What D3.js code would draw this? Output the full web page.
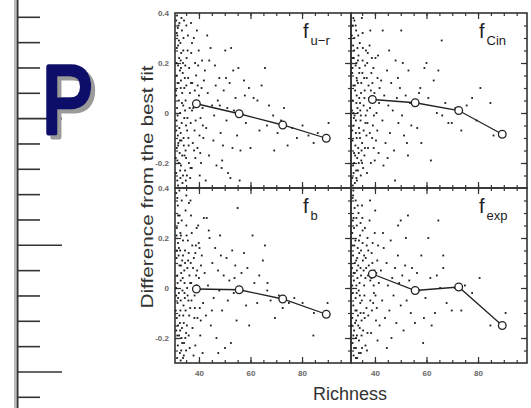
<!DOCTYPE html>
<html lang="en">
<head>
  <meta charset="utf-8">
  <title>Difference from the best fit vs richness</title>
  <script src="https://d3js.org/d3.v7.min.js"></script>
  <style>
    html, body { margin: 0; padding: 0; background: #fff; }
    svg { display: block; font-family: "Liberation Sans", Arial, sans-serif; }
    .frame { fill: none; stroke: #333; stroke-width: 1.6; }
    .ticks path { display: none; }
    .ticks line { stroke: #333; stroke-width: 1.2; }
    .lab path, .lab line { display: none; }
    .lab text { font-size: 8px; fill: #666; font-weight: bold; }
    .dot { fill: #1a1a1a; }
    .mean-line { fill: none; stroke: #222; stroke-width: 1.3; }
    .mean { fill: #fff; stroke: #222; stroke-width: 1.3; }
  </style>
</head>
<body>
  <svg id="chart" width="531" height="408"></svg>
  <script>
    // panel names (main symbol + subscript)
    const panelNames = [["f", "u\u2212r"], ["f", "Cin"], ["f", "b"], ["f", "exp"]];

    const xTickLabels = [40, 60, 80];
    const yTickLabels = [-0.2, 0, 0.2, 0.4];
    const xMinor = [35, 40, 45, 50, 55, 60, 65, 70, 75, 80, 85, 90, 95];
    const yMinor = [-0.25, -0.2, -0.15, -0.1, -0.05, 0, 0.05, 0.1, 0.15, 0.2, 0.25, 0.3, 0.35];
    const xMajor = [40, 60, 80];
    const yMajor = [-0.2, 0, 0.2];
    const rulerTicks = [0, 1, 2, 3, 4, 5, 6, 7, 8, 9, 10, 11, 12, 13, 14, 15];

    // binned means (richness bin centre, mean difference)
    const meanRich = [39, 55.6, 72.5, 89.4];
    const furMean = [0.037, -0.003, -0.048, -0.101];
    const cinMean = [0.054, 0.041, 0.010, -0.085];
    const fbMean = [-0.004, -0.007, -0.044, -0.105];
    const fexpMean = [0.056, -0.010, 0.004, -0.150];

    // individual clusters [richness, difference]
    const furPts = [
      [31.2,0.37],[31.6,0.31],[32.1,0.35],[32.8,0.28],[33.4,0.33],[31.4,0.26],[32.3,0.22],[31.9,0.19],[33.1,0.24],[34.0,0.30],
      [31.3,0.15],[32.6,0.17],[33.8,0.20],[31.7,0.12],[32.9,0.10],[34.5,0.14],[31.2,0.07],[32.2,0.05],[33.5,0.08],[35.1,0.11],
      [31.5,0.02],[32.7,0.00],[33.9,0.03],[31.3,-0.03],[32.4,-0.06],[34.3,-0.02],[31.8,-0.09],[33.2,-0.11],[35.4,-0.07],[31.4,-0.14],
      [32.5,-0.16],[34.1,-0.13],[31.6,-0.19],[33.0,-0.21],[35.0,-0.18],[31.2,-0.24],[32.8,-0.26],[34.6,-0.23],[33.6,-0.28],[31.9,-0.29],
      [35.6,0.25],[34.8,0.05],[35.9,-0.10],[36.2,0.18],[35.3,-0.25],[34.2,0.37],[33.0,0.13],[32.0,-0.12],[31.1,0.09],[31.0,-0.18],
      [36.5,0.08],[36.8,-0.04],[35.7,0.31],[34.4,-0.17],[33.3,-0.04],[32.2,0.29],[31.8,0.34],[33.7,0.16],[34.9,-0.27],[36.1,-0.20],
      [31.5,0.39],[32.4,0.36],[33.2,0.38],[31.9,0.27],[32.9,0.21],[33.9,0.25],[34.7,0.19],[31.3,0.20],[32.1,0.12],[33.4,0.04],
      [34.6,0.01],[31.7,-0.01],[32.9,-0.08],[34.0,-0.10],[31.2,-0.07],[32.2,-0.20],[33.5,-0.17],[34.8,-0.15],[31.6,-0.27],[32.6,-0.11],
      [35.2,0.22],[35.8,0.14],[36.4,0.02],[35.5,-0.02],[36.0,-0.13],[36.7,-0.22],[35.1,0.35],[37.3,0.28],[38.1,-0.15],[39.2,0.33],
      [33.0,0.18],[31.4,0.32],[34.3,0.10],[32.7,-0.23],[31.9,-0.13],[36.9,0.12],[35.0,-0.05],[33.8,-0.25],[38.5,0.20],[40.5,-0.16],
      [37.0,0.24],[37.4,0.12],[37.8,0.02],[38.3,-0.07],[38.9,0.15],[39.4,-0.14],[40.0,0.07],[40.6,-0.02],[41.2,0.21],[41.7,-0.10],
      [37.2,-0.22],[38.0,0.30],[38.6,-0.18],[39.1,0.04],[39.7,0.19],[40.3,-0.25],[41.0,0.10],[41.5,-0.05],[36.9,0.36],[37.6,-0.12],
      [38.4,0.09],[39.9,0.25],[40.8,-0.20],[41.9,0.13],[37.3,0.01],[38.7,-0.03],[39.5,0.11],[40.2,-0.09],[41.4,0.02],[36.6,-0.26],
      [42.3,0.17],[42.8,-0.06],[43.4,0.08],[43.9,-0.17],[44.5,0.26],[45.1,0.03],[45.6,-0.11],[46.2,0.19],[46.8,-0.21],[47.3,0.05],
      [47.9,0.14],[48.4,-0.08],[49.0,-0.19],[49.6,0.09],[50.2,0.25],[50.7,-0.03],[51.3,-0.24],[51.9,0.12],[52.5,0.26],[53.0,-0.14],
      [53.6,0.01],[54.2,0.06],[54.8,-0.09],[42.6,-0.27],[44.0,0.21],[45.9,-0.01],[48.1,0.03],[49.3,-0.13],[52.2,-0.26],[50.5,0.14],
      [43.2,0.31],[46.5,0.11],[48.8,-0.22],[51.0,0.02],[53.3,0.17],
      [55.3,0.18],[56.1,-0.15],[57.5,0.13],[58.2,-0.04],[57.8,0.07],[59.4,0.10],[60.0,-0.14],[61.2,0.06],[62.7,0.05],[63.5,-0.07],
      [64.3,0.11],[65.6,0.18],[66.4,-0.05],[67.2,0.03],[68.8,-0.01],[69.2,-0.15],[70.5,-0.08],[71.9,-0.03],[73.0,0.02],[74.4,-0.13],
      [76.2,-0.06],[78.0,-0.10],[80.2,-0.05],[82.5,-0.09],[84.5,-0.12],[86.1,-0.08],[90.3,-0.04],[55.8,-0.27]
    ];
    const cinPts = [
      [31.3,0.35],[32.0,0.30],[32.7,0.33],[31.5,0.27],[33.2,0.26],[31.8,0.22],[32.5,0.19],[33.6,0.23],[31.2,0.16],[32.9,0.14],
      [34.0,0.18],[31.6,0.11],[32.3,0.09],[33.4,0.12],[34.6,0.08],[31.4,0.05],[32.8,0.04],[33.9,0.06],[31.1,0.01],[32.1,-0.01],
      [33.3,0.00],[34.4,-0.03],[31.7,-0.05],[32.6,-0.08],[33.8,-0.06],[31.3,-0.11],[32.4,-0.13],[34.2,-0.10],[31.9,-0.16],[33.1,-0.18],
      [34.8,-0.15],[31.5,-0.21],[32.7,-0.23],[33.7,-0.20],[31.2,-0.26],[32.2,-0.28],[34.5,-0.25],[35.2,0.21],[35.6,0.03],[35.0,-0.12],
      [35.8,0.14],[35.4,-0.22],[36.0,0.09],[36.3,-0.04],[34.1,0.28],[33.0,-0.27],[31.0,0.31],[35.9,-0.17],[34.9,0.38],[32.0,0.37],
      [36.5,0.25],[36.7,-0.09],[35.1,0.16],[33.5,-0.14],[32.9,0.07],[31.8,-0.02],[34.3,0.01],[33.4,0.21],[36.2,0.19],[31.4,-0.29],
      [31.6,0.38],[32.5,0.35],[33.5,0.31],[31.9,0.25],[32.8,0.20],[33.9,0.16],[34.7,0.12],[31.3,0.18],[32.2,0.11],[33.2,0.02],
      [34.5,-0.01],[31.6,0.00],[32.9,-0.10],[34.0,-0.08],[31.2,-0.07],[32.3,-0.17],[33.4,-0.23],[34.7,-0.19],[31.7,-0.24],[32.6,-0.03],
      [35.3,0.26],[35.9,0.06],[36.4,-0.01],[35.6,-0.07],[36.1,-0.14],[36.8,0.14],[35.2,0.32],[37.2,0.24],[38.0,-0.08],[38.8,0.22],
      [33.0,0.13],[31.4,0.22],[34.2,0.04],[32.8,-0.26],[31.9,-0.20],[37.0,0.01],[35.0,-0.20],[33.7,-0.16],[38.4,0.09],[39.5,-0.14],
      [37.0,0.20],[37.5,0.11],[38.1,0.02],[38.6,0.16],[39.2,-0.05],[39.8,0.08],[40.4,-0.11],[41.0,0.14],[41.6,0.04],[37.3,-0.14],
      [37.9,0.27],[38.4,-0.20],[39.0,0.12],[39.6,-0.01],[40.2,0.22],[40.9,-0.07],[41.4,-0.16],[37.7,0.06],[38.9,-0.10],[40.0,0.05],
      [41.8,0.10],[36.9,-0.24],[38.2,0.33],[39.4,0.18],[40.6,0.00],[37.1,-0.04],[39.9,-0.19],[41.2,0.23],
      [42.4,0.13],[42.9,-0.03],[43.0,0.33],[43.6,0.07],[44.1,-0.12],[44.7,0.17],[45.2,0.03],[45.8,-0.08],[46.3,0.12],[46.9,0.01],
      [47.4,-0.15],[48.0,0.21],[48.5,0.06],[49.1,-0.04],[49.7,0.10],[50.2,0.33],[50.8,0.20],[51.3,-0.09],[51.9,0.07],[52.4,-0.12],
      [53.0,0.17],[53.6,0.04],[54.1,-0.05],[47.8,-0.27],[43.3,-0.21],[45.5,0.25],[48.9,0.14],[52.8,-0.17],[44.9,-0.18],[50.5,-0.01],
      [55.5,0.03],[56.4,-0.06],[57.1,0.08],[58.0,-0.12],[59.2,0.18],[60.0,0.20],[60.7,0.06],[61.7,-0.19],[62.8,0.13],[64.0,0.00],
      [64.6,0.17],[65.9,0.29],[66.1,-0.01],[67.3,0.04],[68.5,-0.04],[69.8,-0.04],[71.2,0.02],[73.5,-0.07],[75.6,0.03],[77.7,0.06],
      [79.4,-0.03],[80.9,0.10],[84.8,0.04],[86.0,-0.09],[88.2,-0.09],[57.6,0.10]
    ];
    const fbPts = [
      [31.2,0.38],[31.8,0.33],[32.5,0.29],[31.4,0.24],[33.0,0.21],[31.9,0.18],[32.7,0.15],[33.8,0.19],[31.3,0.12],[32.4,0.09],
      [33.5,0.11],[34.3,0.07],[31.6,0.05],[32.9,0.03],[31.1,0.00],[32.2,-0.02],[33.6,-0.01],[34.5,-0.04],[31.7,-0.06],[32.8,-0.09],
      [34.0,-0.07],[31.4,-0.12],[32.6,-0.14],[33.9,-0.11],[31.2,-0.17],[32.3,-0.19],[33.4,-0.16],[34.7,-0.20],[31.8,-0.23],[33.1,-0.25],
      [34.2,-0.22],[31.5,-0.28],[32.9,-0.29],[35.1,0.25],[35.5,0.08],[35.9,-0.05],[35.3,-0.15],[36.0,0.14],[36.4,-0.24],[34.8,0.31],
      [33.3,0.35],[36.6,0.02],[35.7,0.19],[34.1,-0.27],[32.0,0.26],[31.0,-0.09],[36.2,-0.11],[35.0,-0.18],[33.7,0.04],[32.1,0.13],
      [31.9,-0.04],[34.6,0.15],[36.8,0.10],[35.4,0.00],[33.2,-0.20],[36.1,0.34],[36.9,0.29],
      [31.6,0.36],[32.4,0.39],[33.3,0.27],[31.9,0.29],[32.8,0.22],[33.8,0.13],[34.6,0.10],[31.3,0.21],[32.2,0.16],[33.1,0.06],
      [34.4,0.02],[31.7,0.02],[32.9,-0.05],[34.1,-0.14],[31.2,-0.03],[32.4,-0.11],[33.5,-0.22],[34.8,-0.09],[31.6,-0.19],[32.6,-0.26],
      [35.2,0.21],[35.8,0.11],[36.3,0.05],[35.6,-0.03],[36.0,-0.19],[36.6,-0.08],[35.1,0.37],[37.4,0.17],[38.2,-0.12],[39.1,0.24],
      [33.0,0.09],[31.4,0.15],[34.4,-0.02],[32.7,-0.17],[31.9,-0.15],[37.1,-0.05],[35.0,-0.25],[33.8,-0.28],[38.6,0.14],[40.2,0.16],
      [37.2,0.22],[37.7,0.08],[38.3,-0.03],[38.8,0.17],[39.4,-0.12],[40.0,0.04],[40.5,-0.19],[41.1,0.13],[41.6,-0.06],[37.5,-0.16],
      [38.0,0.12],[38.6,-0.23],[39.1,0.01],[39.7,0.25],[40.3,-0.08],[40.8,0.09],[41.4,-0.26],[37.0,0.02],[38.4,-0.08],[39.9,0.18],
      [41.9,0.28],[37.9,-0.27],[39.3,0.07],[40.7,-0.13],[36.7,0.35],[38.9,0.05],
      [42.2,0.06],[42.7,-0.11],[43.0,0.28],[43.5,0.01],[44.1,0.20],[44.6,-0.15],[45.2,0.10],[45.7,-0.04],[46.3,0.16],[46.8,-0.20],
      [47.4,0.07],[47.9,-0.01],[48.5,0.13],[49.0,-0.09],[49.6,0.05],[50.1,-0.24],[50.7,0.12],[51.2,-0.05],[51.8,0.03],[52.4,-0.22],
      [52.9,0.15],[53.5,-0.02],[54.1,0.09],[54.6,-0.13],[55.0,0.32],[43.8,0.23],[47.5,-0.26],[48.2,0.21],[45.0,-0.09],[53.8,0.04],
      [56.5,0.06],[57.5,0.14],[58.3,-0.07],[59.5,-0.15],[60.8,0.21],[61.5,0.02],[62.6,-0.06],[63.4,0.05],[64.8,0.11],[65.6,0.17],
      [66.5,-0.01],[66.6,0.02],[67.8,-0.05],[69.5,-0.12],[71.0,-0.03],[72.5,-0.08],[74.9,-0.06],[77.0,-0.04],[80.2,-0.06],[84.4,-0.19],
      [84.6,-0.10],[89.9,-0.06],[58.8,0.08]
    ];
    const fexpPts = [
      [31.3,0.36],[32.1,0.32],[31.7,0.28],[32.9,0.25],[33.6,0.30],[31.2,0.22],[32.4,0.19],[33.3,0.16],[34.2,0.21],[31.5,0.13],
      [32.7,0.11],[33.9,0.14],[31.1,0.08],[32.2,0.06],[33.5,0.09],[34.6,0.05],[31.8,0.03],[32.8,0.01],[34.0,0.02],[31.4,-0.02],
      [32.5,-0.04],[33.7,-0.01],[31.6,-0.07],[32.9,-0.09],[34.3,-0.06],[31.2,-0.12],[32.3,-0.14],[33.4,-0.11],[34.8,-0.13],[31.9,-0.17],
      [33.0,-0.19],[34.1,-0.16],[31.3,-0.22],[32.6,-0.24],[33.8,-0.21],[31.7,-0.27],[34.5,-0.26],[35.2,0.18],[35.6,0.07],[35.9,-0.03],
      [35.4,-0.17],[36.1,0.24],[36.4,0.12],[36.7,-0.08],[35.0,0.33],[36.3,-0.23],[34.9,-0.05],[33.2,0.04],[32.0,0.17],[31.0,-0.15],
      [35.8,0.01],[36.8,0.17],[34.4,0.26],[33.1,-0.28],[35.3,0.11],[31.5,0.37],[32.6,-0.20],
      [31.6,0.39],[32.5,0.35],[33.3,0.33],[31.9,0.24],[32.8,0.28],[33.8,0.19],[34.6,0.15],[31.3,0.17],[32.2,0.10],[33.1,0.12],
      [34.4,0.08],[31.7,0.06],[32.9,-0.02],[34.1,-0.03],[31.2,0.01],[32.4,-0.09],[33.5,-0.15],[34.8,-0.19],[31.6,-0.19],[32.6,-0.28],
      [35.2,0.23],[35.8,0.13],[36.3,0.04],[35.6,-0.10],[36.0,-0.12],[36.6,0.08],[35.1,0.28],[37.4,0.15],[38.2,-0.05],[39.1,0.18],
      [33.0,0.07],[31.4,0.27],[34.4,-0.10],[32.7,-0.13],[31.9,-0.24],[37.1,-0.18],[35.0,-0.24],[33.8,-0.26],[38.6,0.04],[40.2,-0.03],
      [37.1,0.20],[37.6,0.09],[38.2,0.03],[38.7,0.14],[39.3,-0.06],[39.8,0.07],[40.4,-0.13],[40.9,0.11],[41.5,0.02],[37.4,-0.11],
      [37.9,0.27],[38.5,-0.18],[39.0,0.10],[39.6,-0.02],[40.1,0.31],[40.7,-0.08],[41.2,0.17],[41.8,-0.15],[37.3,0.05],[38.8,-0.09],
      [39.9,0.22],[41.0,-0.21],[36.9,-0.25],[38.1,0.35],[39.5,0.01],[40.5,0.06],
      [42.3,0.07],[42.8,-0.05],[43.4,0.16],[43.9,-0.12],[44.5,0.10],[45.0,0.01],[45.6,-0.09],[46.1,0.19],[46.7,0.04],[47.2,-0.03],
      [47.8,0.08],[48.3,-0.14],[48.9,0.13],[49.4,0.02],[50.0,0.27],[50.0,-0.07],[50.6,0.05],[51.1,-0.17],[51.7,0.09],[52.3,-0.05],
      [52.8,0.29],[53.3,0.03],[53.9,-0.10],[54.4,0.08],[55.5,-0.14],[43.1,0.22],[46.4,-0.20],[49.0,0.25],[52.0,0.20],[44.6,-0.24],
      [56.3,0.06],[57.2,-0.01],[58.0,0.13],[58.7,-0.22],[59.6,-0.04],[60.7,0.20],[61.5,0.04],[62.0,-0.15],[63.3,-0.10],[64.0,0.05],
      [64.6,0.27],[65.3,0.00],[66.5,0.13],[66.5,0.08],[67.8,-0.06],[69.8,-0.09],[71.0,0.00],[73.5,-0.09],[74.9,0.01],[77.7,-0.02],
      [80.6,0.04],[84.8,-0.15],[90.7,-0.10],[59.0,-0.12]
    ];

    const panels = [
      { pts: furPts, mean: furMean, name: panelNames[0], col: 0, row: 0 },
      { pts: cinPts, mean: cinMean, name: panelNames[1], col: 1, row: 0 },
      { pts: fbPts, mean: fbMean, name: panelNames[2], col: 0, row: 1 },
      { pts: fexpPts, mean: fexpMean, name: panelNames[3], col: 1, row: 1 }
    ];

    const svg = d3.select('#chart');
    svg.append('rect').attr('width', 531).attr('height', 408).attr('fill', '#fff');

    // drop shadow for the big letter
    svg.append('defs').append('filter').attr('id', 'pshadow')
      .attr('x', '-20%').attr('y', '-20%').attr('width', '150%').attr('height', '150%')
      .append('feDropShadow')
        .attr('dx', 5).attr('dy', 4).attr('stdDeviation', 0.6)
        .attr('flood-color', '#9a9a9a').attr('flood-opacity', 1);

    // ruler down the left edge
    const ry = d3.scaleLinear().domain([0, 15]).range([17.3, 397.3]);
    const ruler = svg.append('g');
    ruler.append('line').attr('x1', 15).attr('x2', 15).attr('y1', 0).attr('y2', 408)
      .attr('stroke', '#bbb').attr('stroke-width', 2);
    ruler.append('line').attr('x1', 17.5).attr('x2', 17.5).attr('y1', 0).attr('y2', 408)
      .attr('stroke', '#333').attr('stroke-width', 2);
    ruler.selectAll('line.rt').data(rulerTicks).enter().append('line')
      .attr('class', 'rt')
      .attr('x1', 17).attr('x2', d => d % 5 === 4 ? 62 : 40)
      .attr('y1', d => ry(d)).attr('y2', d => ry(d))
      .attr('stroke', '#333').attr('stroke-width', 1.6);

    // big "P"
    svg.append('text').text('P')
      .attr('transform', 'translate(42,132.5) scale(0.8,1)')
      .attr('font-family', 'Liberation Sans').attr('font-size', 96)
      .attr('fill', '#0a0a6a').attr('stroke', '#0a0a6a').attr('stroke-width', 5)
      .attr('stroke-linejoin', 'round')
      .attr('filter', 'url(#pshadow)');

    // panel geometry
    const colX = [175, 351], rowY = [13, 188], pw = 176, ph = 175;
    const xDomain = [30.7, 99], yDomain = [-0.3, 0.4];
    const fmtY = d => d === 0 ? '0' : (d < 0 ? '-' : '') + Math.abs(d).toFixed(1);

    panels.forEach(p => {
      const x0 = colX[p.col], y0 = rowY[p.row];
      const x = d3.scaleLinear().domain(xDomain).range([x0, x0 + pw]);
      const y = d3.scaleLinear().domain(yDomain).range([y0 + ph, y0]);
      const g = svg.append('g');

      // inward ticks on all four sides
      const addTicks = (axis, tx, ty) => g.append('g').attr('class', 'ticks')
        .attr('transform', `translate(${tx},${ty})`).call(axis);
      [[xMinor, 3], [xMajor, 6]].forEach(([vals, len]) => {
        addTicks(d3.axisBottom(x).tickValues(vals).tickSize(-len).tickFormat(''), 0, y0 + ph);
        addTicks(d3.axisTop(x).tickValues(vals).tickSize(-len).tickFormat(''), 0, y0);
      });
      [[yMinor, 3], [yMajor, 6]].forEach(([vals, len]) => {
        addTicks(d3.axisLeft(y).tickValues(vals).tickSize(-len).tickFormat(''), x0, 0);
        addTicks(d3.axisRight(y).tickValues(vals).tickSize(-len).tickFormat(''), x0 + pw, 0);
      });

      g.append('rect').attr('class', 'frame')
        .attr('x', x0).attr('y', y0).attr('width', pw).attr('height', ph);

      if (p.col === 0) {
        g.append('g').attr('class', 'lab')
          .attr('transform', `translate(${x0},0)`)
          .call(d3.axisLeft(y).tickValues(yTickLabels).tickSize(0).tickPadding(6).tickFormat(fmtY));
      }
      if (p.row === 1) {
        g.append('g').attr('class', 'lab')
          .attr('transform', `translate(0,${y0 + ph})`)
          .call(d3.axisBottom(x).tickValues(xTickLabels).tickSize(0).tickPadding(7));
      }

      // scatter
      g.selectAll('rect.dot').data(p.pts).enter().append('rect')
        .attr('class', 'dot')
        .attr('x', d => x(d[0]) - 0.9).attr('y', d => y(d[1]) - 0.9)
        .attr('width', 1.8).attr('height', 1.8);

      // binned means
      const mdata = meanRich.map((r, i) => [r, p.mean[i]]);
      g.append('path').attr('class', 'mean-line')
        .attr('d', d3.line().x(d => x(d[0])).y(d => y(d[1]))(mdata));
      g.selectAll('circle.mean').data(mdata).enter().append('circle')
        .attr('class', 'mean')
        .attr('cx', d => x(d[0])).attr('cy', d => y(d[1])).attr('r', 3.8);

      // panel label
      const lt = g.append('text').attr('x', x0 + pw - 48).attr('y', y0 + 25)
        .attr('font-size', 20).attr('fill', '#222');
      lt.append('tspan').text(p.name[0]);
      lt.append('tspan').attr('dx', 2).attr('dy', 7).attr('font-size', 13).text(p.name[1]);
    });

    // axis titles
    svg.append('text').text('Richness')
      .attr('x', 350).attr('y', 400).attr('text-anchor', 'middle')
      .attr('font-size', 18).attr('fill', '#333');
    svg.append('text').text('Difference from the best fit')
      .attr('transform', 'translate(153,187) rotate(-90)')
      .attr('text-anchor', 'middle')
      .attr('font-size', 17).attr('fill', '#333')
      .attr('textLength', 243).attr('lengthAdjust', 'spacingAndGlyphs');
  </script>
</body>
</html>
